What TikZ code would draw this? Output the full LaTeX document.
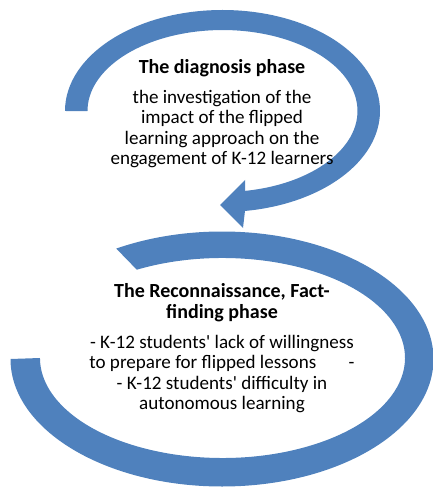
\documentclass[tikz,border=0pt]{standalone}
\usepackage{fontspec}
\setmainfont{Carlito}
\definecolor{arcblue}{RGB}{79,129,189}
\tikzset{every picture/.style={line width=0.75pt}}
\tikzset{
  blockarc/.style={fill=arcblue, draw=none},
  phasetitle/.style={align=center, font=\fontsize{15}{15.8}\selectfont\bfseries},
  phasetext/.style={align=center, font=\fontsize{14.3}{15.2}\selectfont}
}

\begin{document}
\begin{tikzpicture}[x=0.75pt,y=0.75pt,yscale=-1,xscale=1]
\useasboundingbox (0,0) rectangle (432,488);

%Shape: Circular Arrow [id:top]
\draw [blockarc] (65,111) arc [start angle=180, end angle=441.8, x radius=157.5, y radius=101]
  -- (243,228) -- (220,205) -- (245,180) -- (245,190.9)
  arc [start angle=440.4, end angle=180, x radius=135, y radius=81] -- cycle ;
%Shape: Block Arc [id:bottom]
\draw [blockarc] (10.5,359) arc [start angle=180, end angle=-120, x radius=211.5, y radius=127.5]
  -- (136.8,269.7)
  arc [start angle=-118, end angle=180, x radius=182.5, y radius=100] -- cycle ;

% Text Node
\draw (222,68) node (diagtitle) [phasetitle] {The diagnosis phase};
% Text Node
\draw (222,129) node (diagtext) [phasetext] {the investigation of the\\impact of the flipped\\learning approach on the\\engagement of K-12 learners};
% Text Node
\draw (222,302.5) node (recontitle) [phasetitle] {The Reconnaissance, Fact-\\finding phase};
% Text Node
\draw (222,374) node (recontext) [phasetext] {- K-12 students\textquotesingle{} lack of willingness\\to prepare for flipped lessons\hspace{1.7em}-\\- K-12 students\textquotesingle{} difficulty in\\autonomous learning};

\end{tikzpicture}
\end{document}
